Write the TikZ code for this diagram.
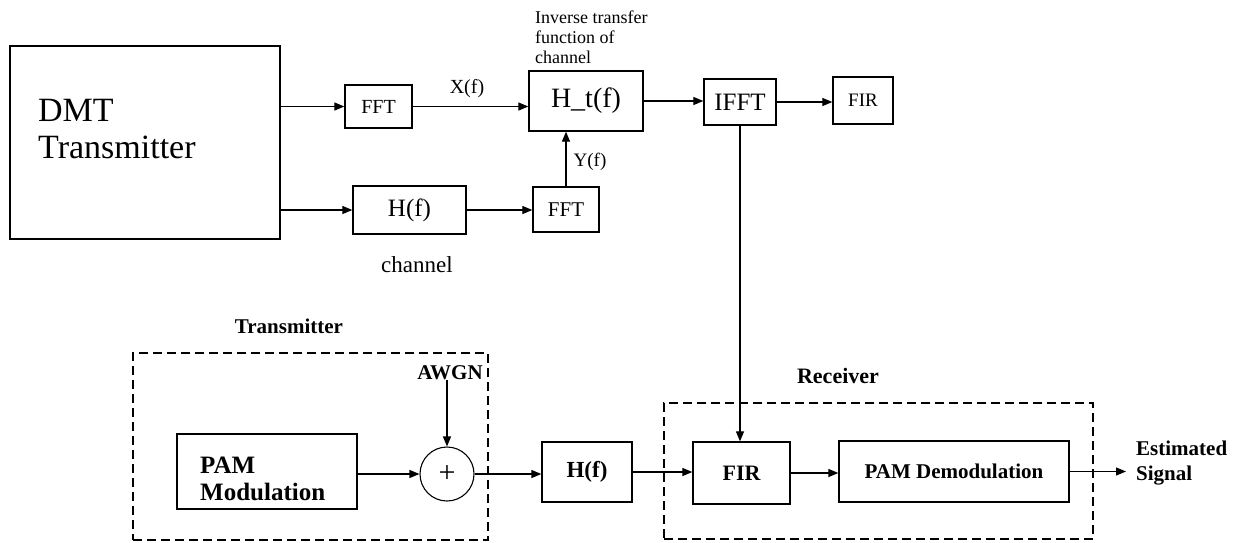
\documentclass[tikz,border=0pt]{standalone}
\usepackage{fontspec}
\setmainfont{Liberation Serif}
\usetikzlibrary{arrows.meta}
\newcommand\fsz[2]{\fontsize{#1}{#2}\selectfont}
\begin{document}
\begin{tikzpicture}[x=1pt,y=-1pt,
  box/.style={draw, line width=1.3pt, inner sep=0pt, align=center},
  conn/.style={line width=1.2pt, -{Triangle[length=10pt,width=8pt]}},
  frame/.style={draw, line width=1.3pt, dash pattern=on 9pt off 5pt, inner sep=0pt},
  lbl/.style={inner sep=0pt},
]
\useasboundingbox (0,0) rectangle (1237,542);
\fill[white] (0,0) rectangle (1237,542);

% ---------- top ----------
\node[box, minimum width=270pt, minimum height=193pt] (dmt) at (145,142.5) {};
\node[lbl, anchor=west, align=left, font=\fsz{34}{37}] (dmttxt) at (38,129) {DMT\\Transmitter};

\node[box, minimum width=67pt, minimum height=43pt, font=\fsz{20}{22}] (fft1) at (378.5,106.5) {FFT};
\node[box, minimum width=114pt, minimum height=60pt, font=\fsz{28}{30}] (ht) at (586,101) {H\_t(f)};
\node[box, minimum width=72pt, minimum height=46pt, font=\fsz{25}{26}] (ifft) at (740,102) {IFFT};
\node[box, minimum width=60pt, minimum height=47pt, font=\fsz{19}{20}] (fir1) at (863,100.5) {FIR};
\node[box, minimum width=113pt, minimum height=48pt, font=\fsz{25}{28}] (hf1) at (409.5,210) {H(f)};
\node[box, minimum width=66pt, minimum height=45pt, font=\fsz{21}{24}] (fft2) at (566,209.5) {FFT};

\node[lbl, font=\fsz{20}{22}] (xf) at (467,89) {X(f)};
\node[lbl, font=\fsz{19}{21}] (yf) at (590,162) {Y(f)};
\node[lbl, font=\fsz{23}{26}] (chan) at (417,265) {channel};
\node[lbl, anchor=west, align=left, font=\fsz{18}{20}] (inv) at (535,37) {Inverse transfer\\function of\\channel};

% ---------- bottom ----------
\node[frame, minimum width=355pt, minimum height=187pt] (txbox) at (310.5,446.5) {};
\node[lbl, font=\bfseries\fsz{21}{24}] (txlbl) at (289,326) {Transmitter};
\node[lbl, font=\bfseries\fsz{21}{24}] (awgn) at (450,373) {AWGN};
\node[draw, circle, line width=1.1pt, minimum size=54pt, inner sep=0pt, font=\fsz{30}{30}] (sum) at (447,474) {+};
\node[box, minimum width=180pt, minimum height=75pt] (pam) at (267,471.5) {};
\node[lbl, anchor=west, align=left, font=\bfseries\fsz{25}{27}] (pamtxt) at (200,478.5) {PAM\\Modulation};
\node[box, minimum width=90pt, minimum height=60pt, font=\bfseries\fsz{23}{24}] (hf2) at (587,472) {H(f)};

\node[frame, minimum width=429pt, minimum height=136pt] (rxbox) at (878.5,471) {};
\node[lbl, font=\bfseries\fsz{22}{24}] (rxlbl) at (838,376) {Receiver};
\node[box, minimum width=97pt, minimum height=62pt, font=\bfseries\fsz{22}{24}] (fir2) at (741.5,473) {FIR};
\node[box, minimum width=230pt, minimum height=61pt, font=\bfseries\fsz{21}{24}] (demod) at (954,471.5) {PAM Demodulation};
\coordinate (out) at (1126,468);
\node[lbl, anchor=west, align=left, font=\bfseries\fsz{21}{25}] (est) at (1136,463.5) {Estimated\\Signal};

% ---------- connectors ----------
\draw[conn] (dmt.east |- fft1.west) -- (fft1.west);
\draw[conn] (dmt.east |- hf1.west) -- (hf1.west);
\draw[conn] (fft1.east) -- (fft1.east -| ht.west);
\draw[conn] (hf1.east) -- (hf1.east -| fft2.west);
\draw[conn] (fft2.north) -- (fft2.north |- ht.south);
\draw[conn] (ht.east) -- (ht.east -| ifft.west);
\draw[conn] (ifft.east) -- (ifft.east -| fir1.west);
\draw[conn] (ifft.south) -- (ifft.south |- fir2.north);
\draw[conn] (sum.north |- awgn.south) -- (sum.north);
\draw[conn] (pam.east |- sum.west) -- (sum.west);
\draw[conn] (sum.east) -- (sum.east -| hf2.west);
\draw[conn] (hf2.east) -- (hf2.east -| fir2.west);
\draw[conn] (fir2.east) -- (fir2.east -| demod.west);
\draw[conn] (demod.east) -- (demod.east -| out);
\end{tikzpicture}
\end{document}
